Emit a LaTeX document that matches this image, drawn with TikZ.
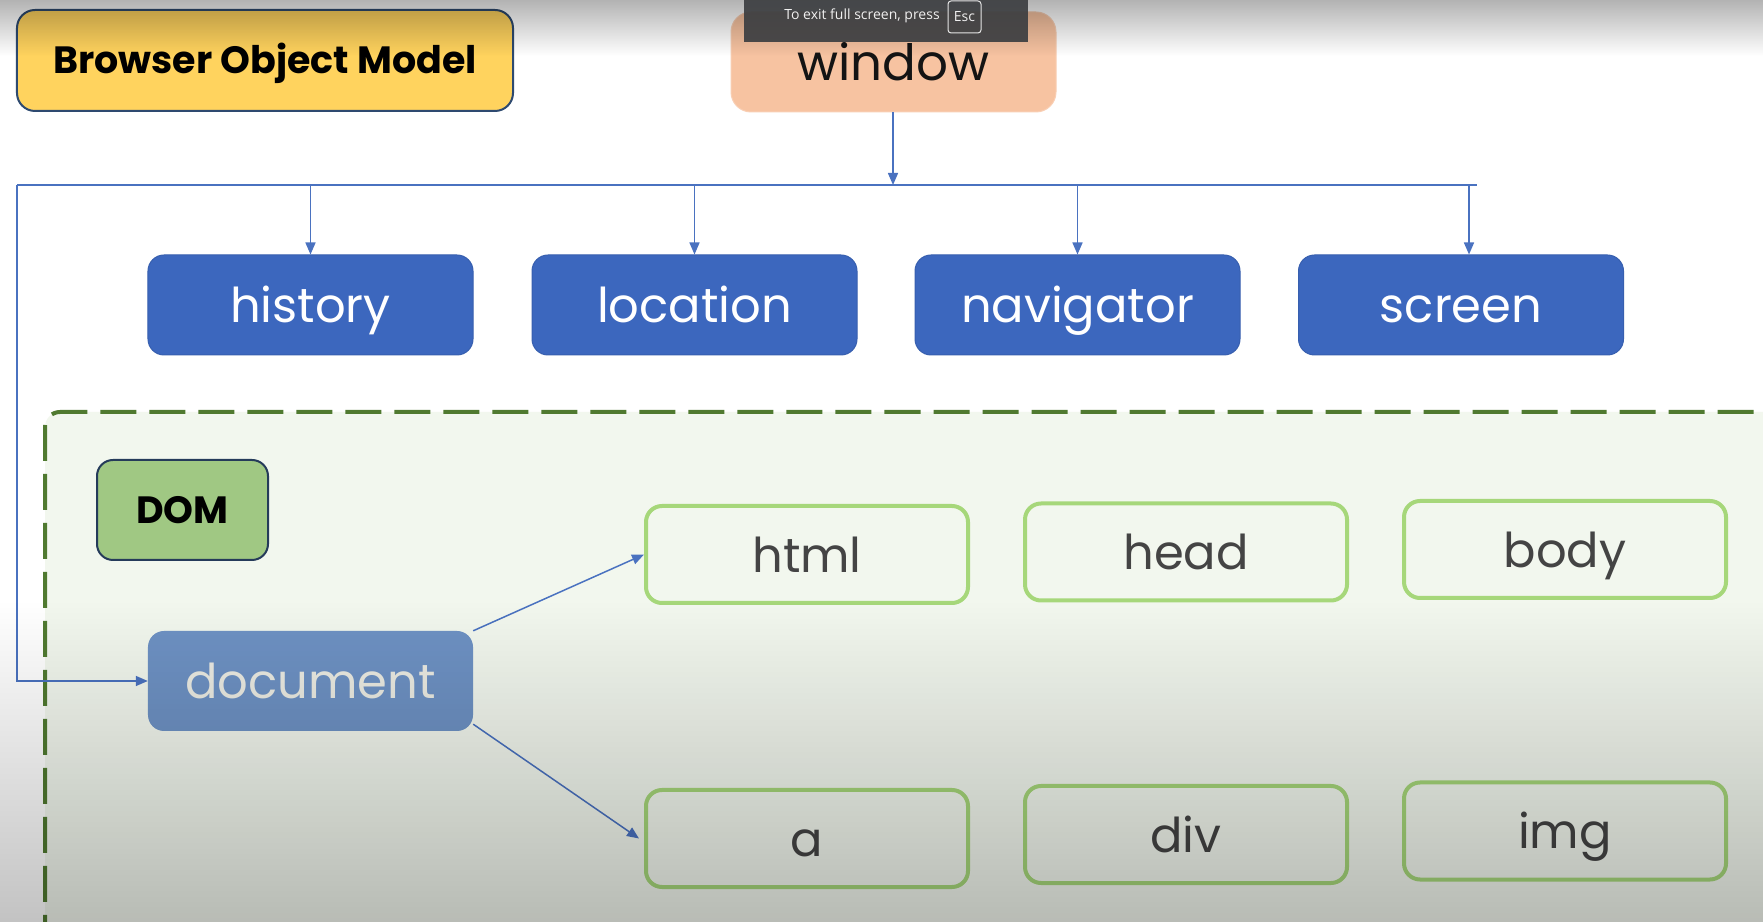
\documentclass[tikz,border=0pt]{standalone}
\usepackage{fontspec}
\setmainfont{Poppins}
\newfontfamily\uifont{Open Sans}
\usetikzlibrary{arrows.meta,fadings}
\definecolor{bomfill}{HTML}{FFD35E}
\definecolor{navyline}{HTML}{2E4A70}
\definecolor{winfill}{HTML}{F7C3A1}
\definecolor{bluebox}{HTML}{3C67BE}
\definecolor{docfill}{HTML}{6E92C4}
\definecolor{doctext}{HTML}{ECECE4}
\definecolor{domfill}{HTML}{A0C883}
\definecolor{lightgreen}{HTML}{A6D77A}
\definecolor{framegreen}{HTML}{507A30}
\definecolor{framefill}{HTML}{F2F7EE}
\definecolor{connblue}{HTML}{4A72C0}
\definecolor{txtgrey}{HTML}{444444}
\definecolor{tbar}{HTML}{3C3E41}
\tikzfading[name=topfade, top color=transparent!68, middle color=transparent!90, bottom color=transparent!100]
\tikzfading[name=botfade, top color=transparent!100, bottom color=transparent!76]
\tikzset{
  box/.style={rounded corners=16bp, minimum width=325bp, minimum height=100bp, inner sep=0bp,
    font=\fontsize{48bp}{52bp}\selectfont, text height=36bp, text depth=0bp},
  bluenode/.style={box, fill=bluebox, draw=bluebox!92!black, line width=1bp, text=white},
  greennode/.style={box, draw=lightgreen, line width=4bp, text=txtgrey,
    minimum width=322bp, minimum height=97bp},
  titlenode/.style={rounded corners=18bp, draw=navyline, line width=2bp, inner sep=0bp,
    font=\fontsize{38bp}{44bp}\selectfont\bfseries, text=black, text height=27bp, text depth=0bp},
  connline/.style={draw=connblue, line width=1.5bp},
  conn/.style={connline, -{Triangle[length=12bp,width=10bp]}},
}
\begin{document}%
\begin{tikzpicture}[x=1bp,y=1bp]%
\useasboundingbox (0,0) rectangle (1763,921);
\clip (0,0) rectangle (1763,921);
\fill[white] (-10,-10) rectangle (1780,940);
% DOM frame
\fill[framefill, rounded corners=15bp] (45,-30) -- (45,509) -- (1800,509) -- (1800,-30) -- cycle;
\draw[framegreen, line width=4bp, dash pattern=on 36bp off 13bp, rounded corners=15bp]
  (45,-30) -- (45,509) -- (1800,509);
% title boxes
\node[titlenode, fill=bomfill, minimum width=496bp, minimum height=101bp] (bom) at (265,860.5) {Browser Object Model};
\node[box, fill=winfill, draw=winfill!80!white, line width=1bp, text=black!92, rounded corners=20bp,
  font=\fontsize{50bp}{54bp}\selectfont, text height=38bp] (window) at (893.5,859) {window};
% BOM children
\node[bluenode] (history) at (310.5,616) {history};
\node[bluenode] (location) at (694.5,616) {location};
\node[bluenode] (navigator) at (1077.5,616) {navigator};
\node[bluenode] (screen) at (1461,616) {screen};
% DOM
\node[titlenode, fill=domfill, draw=navyline!80!black, minimum width=171bp, minimum height=100bp, rounded corners=16bp] (dom) at (182.5,411) {DOM};
\node[box, fill=docfill, text=doctext] (document) at (310.5,240) {document};
\node[greennode] (html) at (807,366.5) {html};
\node[greennode] (head) at (1186,369) {head};
\node[greennode] (body) at (1565,371.5) {body};
\node[greennode] (a) at (807,82.5) {a};
\node[greennode] (div) at (1186,86.5) {div};
\node[greennode] (img) at (1565,90) {img};
% connectors
\coordinate (hl) at (17,736);
\coordinate (hr) at (1477,736);
\coordinate (hj) at (893,736);
\coordinate (sd) at (1469,736);
\draw[connline] (hl) -- (hr);
\draw[conn] (window.south -| hj) -- (hj);
\draw[conn] (history.north |- hl) -- (history.north);
\draw[conn] (location.north |- hl) -- (location.north);
\draw[conn] (navigator.north |- hl) -- (navigator.north);
\draw[conn] (sd) -- (sd |- screen.north);
\draw[conn] (hl) |- (document.west);
\draw[conn] (document.north east) -- (html.west);
\draw[conn] ([yshift=7bp]document.south east) -- ([xshift=-5bp]a.west);
% screen shading overlays
\fill[black, path fading=topfade, fit fading=true] (-5,865) rectangle (1770,925);
\fill[black, path fading=botfade, fit fading=true] (-5,-5) rectangle (1770,321);
% full-screen toolbar
\fill[tbar, opacity=0.92] (744,879) rectangle (1028,921);
\node[font=\uifont\fontsize{14bp}{16bp}\selectfont, text=white!94!black, inner sep=0bp] (tbtext) at (862,905) {To exit full screen, press};
\node[font=\uifont\fontsize{14bp}{16bp}\selectfont, text=white!94!black, draw=white!90!black, line width=1bp,
  rounded corners=3bp, minimum width=33bp, minimum height=32bp, inner sep=0bp] (esc) at (964.5,904) {Esc};
\end{tikzpicture}%
\end{document}
